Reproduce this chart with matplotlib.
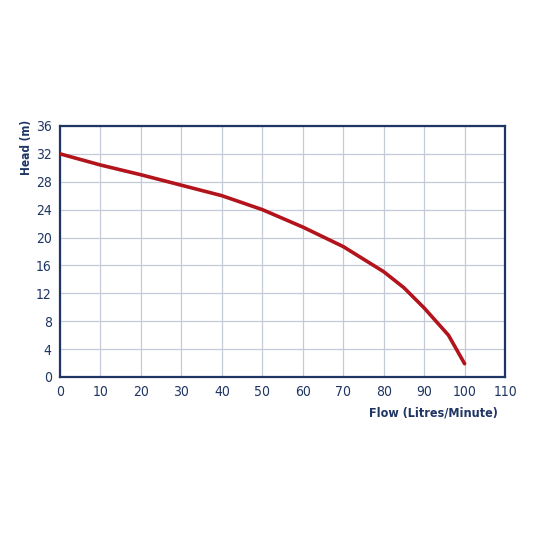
import matplotlib.pyplot as plt
import numpy as np

# pump curve
flow = [0, 10, 20, 30, 40, 50, 60, 70, 80, 85, 90, 96, 100]
head = [32, 30.4, 29, 27.5, 26, 24, 21.5, 18.7, 15.1, 12.8, 9.9, 6.0, 1.9]
x_ticks = list(range(0, 111, 10))
y_ticks = list(range(0, 37, 4))

navy = '#1f3563'
plt.rcParams['font.family'] = ['DejaVu Sans']
plt.rcParams['font.stretch'] = 'condensed'

fig = plt.figure(figsize=(5.33, 5.33), dpi=100)
ax = fig.add_axes([0.1126, 0.2927, 0.835, 0.471])
ax.plot(flow, head, color='#b3141c', lw=2.6, solid_capstyle='round', zorder=3)

ax.set_xlim(0, 110)
ax.set_ylim(0, 36)
ax.set_xticks(x_ticks)
ax.set_yticks(y_ticks)
ax.grid(True, color='#c5cad8', lw=0.9)
ax.tick_params(length=0, labelsize=10, colors=navy, pad=6)
for s in ax.spines.values():
    s.set_color(navy)
    s.set_linewidth(1.6)

fig.text(0.05, 0.775, 'Head (m)', rotation=90, ha='center', va='top',
         color=navy, fontsize=8.5, fontweight='bold')
fig.text(0.935, 0.225, 'Flow (Litres/Minute)', ha='right', va='center',
         color=navy, fontsize=9, fontweight='bold')

fig.savefig('out.png', dpi=100, facecolor='white')
